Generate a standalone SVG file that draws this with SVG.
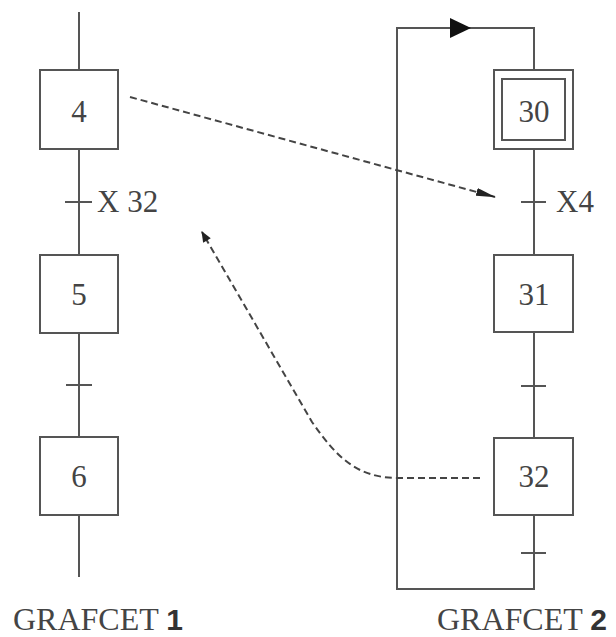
<svg xmlns="http://www.w3.org/2000/svg" width="616" height="637" viewBox="0 0 616 637">
<defs>
<style>
.ln{stroke:#555;stroke-width:2;fill:none}
.box{stroke:#555;stroke-width:2;fill:#fff}
.t{font-family:"Liberation Serif","Times New Roman",serif;font-size:31px;fill:#444}
.tc{text-anchor:middle}
.lb{font-family:"Liberation Serif","Times New Roman",serif;font-size:32px;fill:#444}
.b{font-family:"Liberation Sans",Arial,sans-serif;font-weight:bold;font-size:30px;fill:#333}
.dash{stroke:#444;stroke-width:2;fill:none;stroke-dasharray:7 4}
</style>
<marker id="ah" viewBox="0 0 20 8" refX="19" refY="4" markerWidth="20" markerHeight="8" orient="auto" markerUnits="userSpaceOnUse">
<path d="M0,0 L20,4 L0,8 z" fill="#222"/>
</marker>
<marker id="ah2" viewBox="0 0 10 10" refX="9" refY="5" markerWidth="12" markerHeight="11" orient="auto" markerUnits="userSpaceOnUse">
<path d="M0,1 L10,5 L0,9 z" fill="#222"/>
</marker>
</defs>
<g id="connectors">
<line class="ln" x1="79" y1="12" x2="79" y2="70"/>
<line class="ln" x1="79" y1="149" x2="79" y2="255"/>
<line class="ln" x1="65" y1="202" x2="92" y2="202"/>
<line class="ln" x1="79" y1="333" x2="79" y2="437"/>
<line class="ln" x1="66" y1="385" x2="92" y2="385"/>
<line class="ln" x1="79" y1="515" x2="79" y2="577"/>
<polyline class="ln" points="534,70 534,28 397,28 397,589 534,589 534,515"/>
<path d="M450,18 L471,28 L450,38 z" fill="#111"/>
<line class="ln" x1="534" y1="149" x2="534" y2="255"/>
<line class="ln" x1="521" y1="202" x2="546" y2="202"/>
<line class="ln" x1="534" y1="333" x2="534" y2="438"/>
<line class="ln" x1="521" y1="386" x2="546" y2="386"/>
<line class="ln" x1="521" y1="553" x2="546" y2="553"/>
<path class="dash" d="M130,97 L495,197" marker-end="url(#ah)"/>
<path class="dash" d="M480,478 H398 C356,478 336,456 312,422 L202,232" marker-end="url(#ah2)"/>
</g>
<g id="step4"><rect class="box" x="40" y="70" width="78" height="79"/><text class="t tc" x="79" y="122">4</text></g>
<g id="trans1"><text class="t" x="97" y="212">X 32</text></g>
<g id="step5"><rect class="box" x="40" y="255" width="78" height="78"/><text class="t tc" x="79" y="305">5</text></g>
<g id="step6"><rect class="box" x="40" y="437" width="78" height="78"/><text class="t tc" x="79" y="487">6</text></g>
<g id="step30"><rect class="box" x="494" y="70" width="79" height="79"/><rect class="box" x="502" y="79" width="63" height="61"/><text class="t tc" x="534" y="122">30</text></g>
<g id="trans30"><text class="t" x="556" y="212">X4</text></g>
<g id="step31"><rect class="box" x="494" y="255" width="79" height="77"/><text class="t tc" x="534" y="305">31</text></g>
<g id="step32"><rect class="box" x="494" y="438" width="79" height="77"/><text class="t tc" x="534" y="487">32</text></g>
<g id="label1"><text class="lb" x="13" y="630">GRAFCET <tspan class="b">1</tspan></text></g>
<g id="label2"><text class="lb" x="437" y="630">GRAFCET <tspan class="b">2</tspan></text></g>
</svg>
